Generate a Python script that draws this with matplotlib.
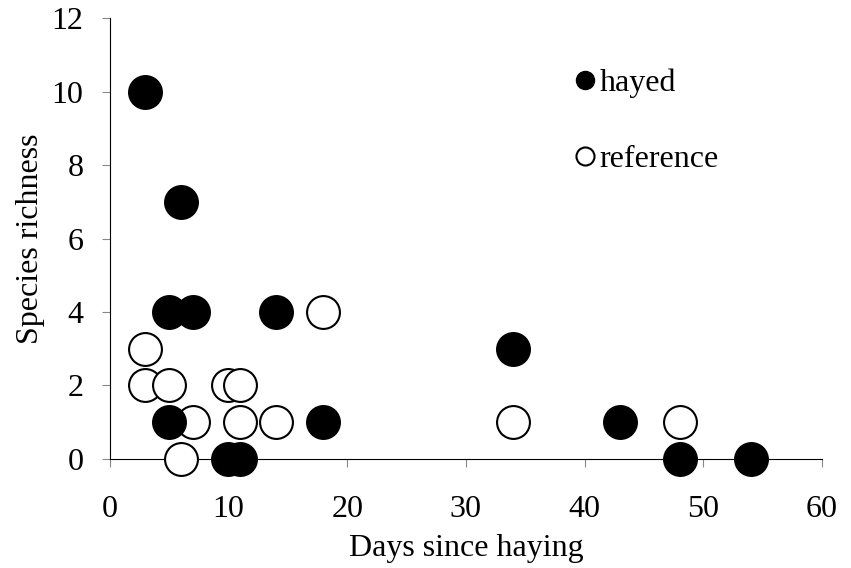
import matplotlib.pyplot as plt
from matplotlib.lines import Line2D

plt.rcParams['font.family'] = ['Liberation Serif', 'DejaVu Serif']

# hayed plots
hayed_days = [3, 6, 5, 7, 14, 34, 5, 18, 43, 10, 11, 48, 54]
hayed_rich = [10, 7, 4, 4, 4, 3, 1, 1, 1, 0, 0, 0, 0]

# reference plots
ref_days = [18, 3, 3, 5, 10, 11, 7, 11, 14, 6, 34, 48]
ref_rich = [4, 3, 2, 2, 2, 2, 1, 1, 1, 0, 1, 1]

fig = plt.figure(figsize=(8.51, 5.68), dpi=100)
ax = fig.add_axes([0.129, 0.192, 0.837, 0.776])

ax.scatter(ref_days, ref_rich, s=560, facecolor='white', edgecolor='black',
           linewidths=1.5, clip_on=False, zorder=3)
ax.scatter(hayed_days, hayed_rich, s=560, facecolor='black', edgecolor='black',
           linewidths=1.5, clip_on=False, zorder=4)

ax.set_xlim(0, 60)
ax.set_ylim(0, 12)
ax.set_xticks(range(0, 61, 10))
ax.set_yticks(range(0, 13, 2))
ax.spines['top'].set_visible(False)
ax.spines['right'].set_visible(False)
ax.tick_params(labelsize=23, length=6, color='#888888', direction='out')
ax.tick_params(axis='y', pad=13)
ax.tick_params(axis='x', pad=20)
ax.set_xlabel('Days since haying', fontsize=23, labelpad=7)
ax.set_ylabel('Species richness', fontsize=23, labelpad=5)

handles = [
    Line2D([], [], marker='o', linestyle='none', markersize=13,
           markerfacecolor='black', markeredgecolor='black', label='hayed'),
    Line2D([], [], marker='o', linestyle='none', markersize=13,
           markerfacecolor='white', markeredgecolor='black', markeredgewidth=1.5,
           label='reference'),
]
ax.legend(handles=handles, loc='upper left', bbox_to_anchor=(0.614, 0.95),
          frameon=False, fontsize=23, handlelength=0.55, handletextpad=0.2,
          labelspacing=1.45)

fig.savefig('out.png', dpi=100)
